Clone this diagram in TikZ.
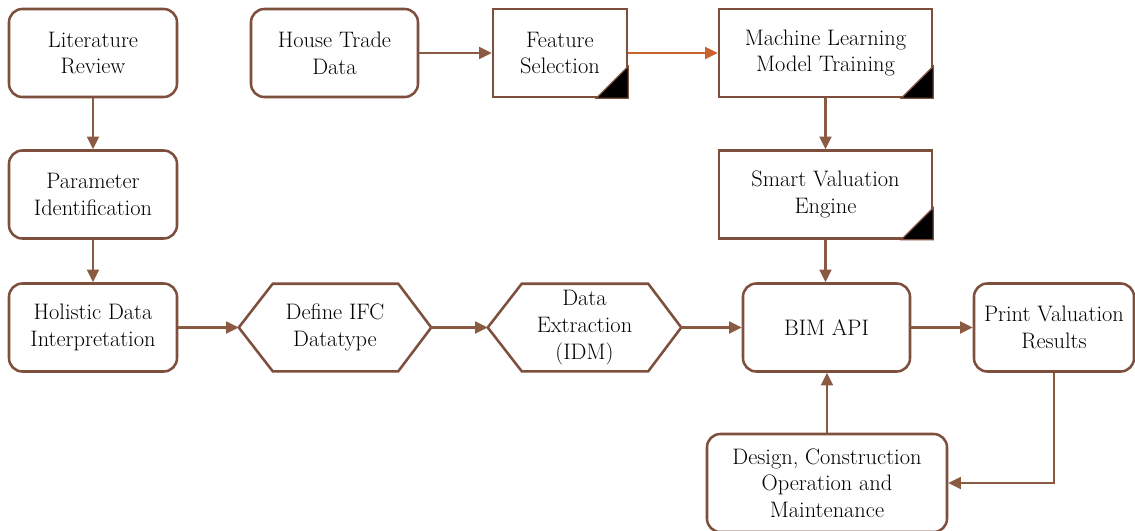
\documentclass[tikz,border=0pt]{standalone}
\usetikzlibrary{arrows.meta,calc}
\definecolor{boxc}{HTML}{7D4F3C}
\definecolor{arrc}{HTML}{8B5A42}
\definecolor{orac}{HTML}{C8622F}
\begin{document}
\begin{tikzpicture}[x=0.75pt,y=-0.75pt,
  txt/.style={align=center,inner sep=0pt,font=\fontsize{16.8}{20}\selectfont},
  rbox/.style={txt,draw=boxc,line width=1.9pt,rounded corners=10pt,fill=white,minimum height=66pt},
  sbox/.style={txt,draw=boxc,line width=1.9pt,fill=white,minimum height=66pt},
  hbox/.style={txt,minimum height=65.25pt},
  hexline/.style={draw=boxc,line width=1.9pt,line join=miter},
  corner/.style={fill=black,draw=boxc,line width=1pt},
  arr/.style={draw=arrc,line width=1.6pt,-{Triangle[length=9.5pt,width=9pt]}},
  oarr/.style={arr,draw=orac,-{Triangle[length=9.5pt,width=9pt,fill=orac]}}
  ]
\useasboundingbox (0,0) rectangle (1135,531);

% nodes
\node[rbox,minimum width=126pt] (lit) at (93,53) {Literature\\Review};
\node[rbox,minimum width=126pt] (par) at (93,194.5) {Parameter\\Identification};
\node[rbox,minimum width=126pt] (hol) at (93,327.5) {Holistic Data\\Interpretation};
\node[rbox,minimum width=125.25pt] (hou) at (334.5,53) {House Trade\\Data};
\node[sbox,minimum width=100.5pt] (fea) at (560,53) {Feature\\Selection};
\node[sbox,minimum width=159.75pt] (mlt) at (825.5,53) {Machine Learning\\Model Training};
\node[sbox,minimum width=159.75pt] (sve) at (825.5,194.5) {Smart Valuation\\Engine};
\node[rbox,minimum width=125.25pt] (bim) at (826.5,327.5) {BIM API};
\node[rbox,minimum width=120pt] (pvr) at (1054,327.5) {Print Valuation\\Results};
\node[rbox,minimum width=180pt,minimum height=73.5pt] (dco) at (827,483) {Design, Construction\\Operation and\\Maintenance};
\node[hbox,minimum width=144pt] (ifc) at (335,327.5) {Define IFC\\Datatype};
\node[hbox,minimum width=144.75pt] (ext) at (584.5,327.5) {Data\\Extraction\\(IDM)};

% hexagons
\draw[hexline] (ifc.west) -- ($(ifc.north west)+(34,0)$) -- ($(ifc.north east)+(-33,0)$) -- (ifc.east)
  -- ($(ifc.south east)+(-33,0)$) -- ($(ifc.south west)+(34,0)$) -- cycle;
\draw[hexline] (ext.west) -- ($(ext.north west)+(34,0)$) -- ($(ext.north east)+(-33,0)$) -- (ext.east)
  -- ($(ext.south east)+(-33,0)$) -- ($(ext.south west)+(34,0)$) -- cycle;

% black corner marks
\foreach \n in {fea,mlt,sve}{
  \draw[corner] ($(\n.south east)+(-32,0)$) -- (\n.south east) -- ($(\n.south east)+(0,-32)$) -- cycle;
}

% connectors
\draw[arr] (lit.south) -- (par.north);
\draw[arr] (par.south) -- (hol.north);
\draw[arr] (hol.east) -- (ifc.west);
\draw[arr] (ifc.east) -- (ext.west);
\draw[arr] (ext.east) -- (bim.west);
\draw[arr] (hou.east) -- (fea.west);
\draw[oarr] (fea.east) -- (mlt.west);
\draw[arr] (mlt.south) -- (sve.north);
\draw[arr] (sve.south) -- (sve.south |- bim.north);
\draw[arr] (bim.east) -- (pvr.west);
\draw[arr] (pvr.south) |- (dco.east);
\draw[arr] (dco.north) -- (dco.north |- bim.south);
\end{tikzpicture}
\end{document}
